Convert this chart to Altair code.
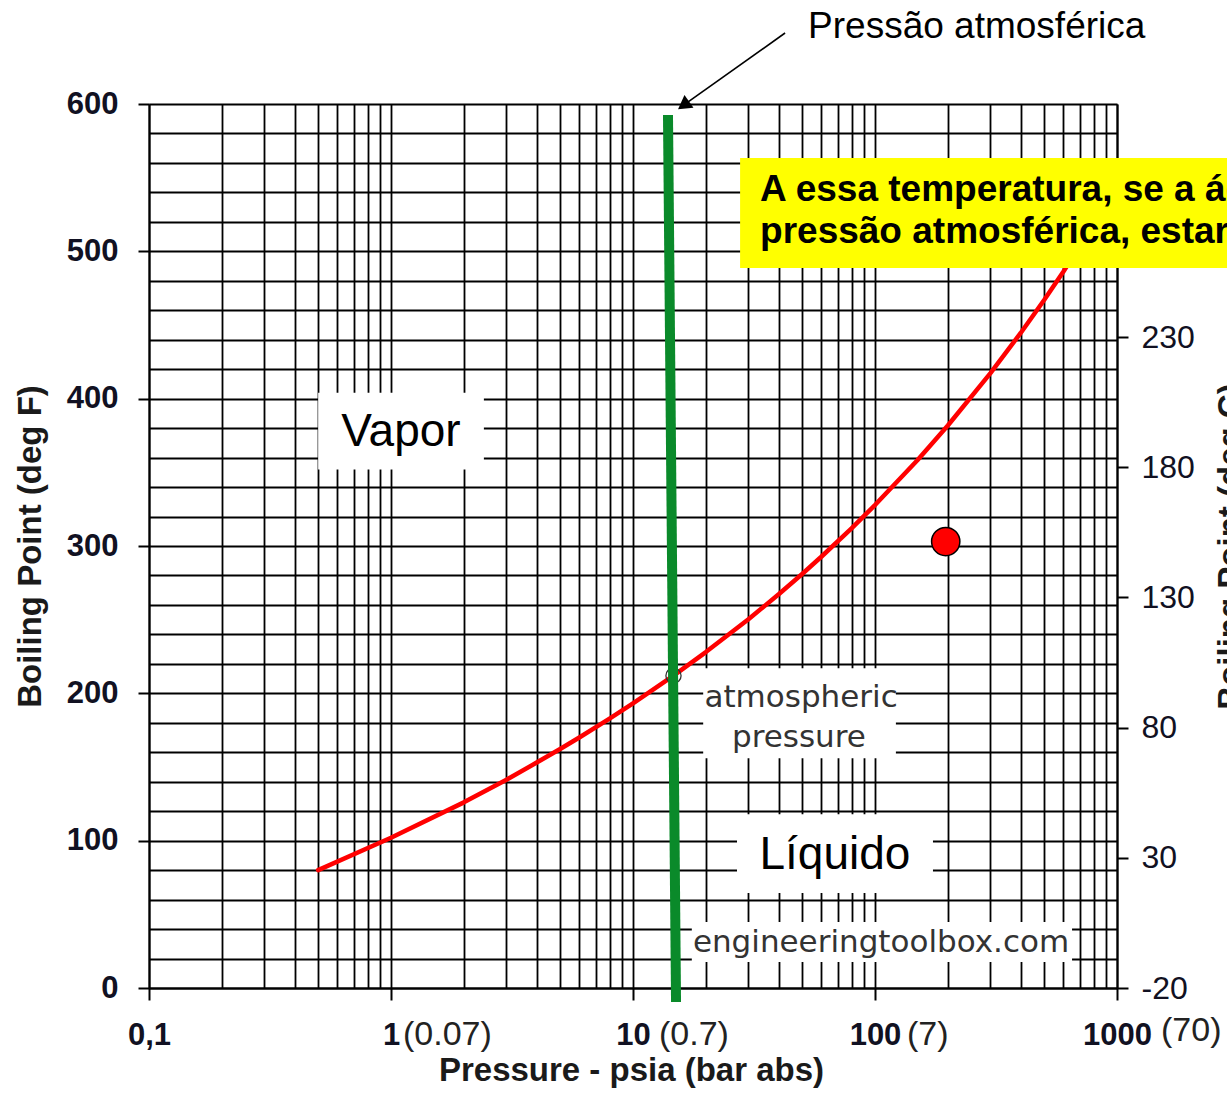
import altair as alt
import pandas as pd

# ---------------- data ----------------
# water saturation (boiling) curve: pressure in psia, boiling point in deg F
pressure_psia = [0.5, 1, 2, 3, 4, 5, 6, 8, 10, 14.7, 20, 30, 40, 50, 60, 80,
                 100, 150, 200, 300, 400, 500, 600, 800, 1000]
boiling_f = [80, 102, 126, 141.4, 153, 162.2, 170, 182.8, 193.2, 212, 228,
             250.3, 267.2, 281, 292.7, 312, 327.8, 358.4, 381.8, 417.3, 444.6,
             467, 486.2, 518.2, 544.6]

# marked state point (red dot) and atmospheric point (small open circle)
state_point = {"psia": [196], "degF": [303]}
atm_point = {"psia": [14.7], "degF": [212]}

# axis ticks / labels
x_grid = sorted(set([round(m * 10 ** e, 6) for e in range(-1, 3) for m in range(1, 10)] + [1000]))
y_grid = list(range(0, 601, 20))
celsius_ticks = [-20, 30, 80, 130, 180, 230]
celsius_span = [-20, 319.5]          # right-axis range matching 0..600 deg F as drawn
bar_labels = ["(0.07)", "(0.7)", "(7)", "(70)"]
bar_label_at = [1, 10, 100, 1000]

# annotation texts
vapor_text = "Vapor"
liquid_text = "Líquido"
atm_lines = ["atmospheric", "pressure"]
site_text = "engineeringtoolbox.com"
arrow_text = "Pressão atmosférica"
yellow_lines = ["A essa temperatura, se a água estivesse à",
                "pressão atmosférica, estaria no estado de vapor"]

# ---------------- chart ----------------
W, H = 968, 884
FONT = "Liberation Sans, Arial, Helvetica, sans-serif"
FONT2 = "DejaVu Sans, Verdana, sans-serif"
GREEN = "#0a8a2a"

xscale = alt.Scale(type="log", domain=[0.1, 1000], nice=False)
yscale = alt.Scale(domain=[0, 600], nice=False, zero=False)

# right axis: Celsius ticks placed on the Fahrenheit scale
k = (celsius_span[1] - celsius_span[0]) / 600.0
celsius_pos = [(c - celsius_span[0]) / k for c in celsius_ticks]


def X(f):
    return alt.X(f + ":Q", scale=xscale, axis=None)


def Y(f):
    return alt.Y(f + ":Q", scale=yscale, axis=None)


decade_test = "indexof([0.1,1,10,100,1000], datum.value) >= 0"

x_axis = alt.Axis(
    orient="bottom",
    values=x_grid, grid=True, gridColor="#000", gridWidth=1.8, gridOpacity=1,
    domain=True, domainColor="#000", domainWidth=2,
    ticks=True, tickColor="#000", tickWidth=2, tickSize=12,
    tickOpacity={"condition": {"test": decade_test, "value": 1}, "value": 0},
    labelExpr="datum.value == 0.1 ? '0,1' : (" + decade_test + " ? format(datum.value, 'd') : '')",
    labelFont=FONT, labelFontSize=31, labelFontWeight="bold", labelColor="#111122",
    labelPadding=20, labelOverlap=False, labelFlush=False, labelBound=False,
    title="Pressure - psia (bar abs)", titleFont=FONT, titleFontSize=33,
    titleFontWeight="bold", titleColor="#1a1a1a", titleX=482, titleY=66,
    titleBaseline="top", titleAlign="center",
)

y_axis = alt.Axis(
    orient="left",
    values=y_grid, grid=True, gridColor="#000", gridWidth=1.8, gridOpacity=1,
    domain=True, domainColor="#000", domainWidth=2,
    ticks=True, tickColor="#000", tickWidth=2, tickSize=11,
    tickOpacity={"condition": {"test": "datum.value % 100 == 0", "value": 1}, "value": 0},
    labelExpr="datum.value % 100 == 0 ? format(datum.value, 'd') : ''",
    labelFont=FONT, labelFontSize=31, labelFontWeight="bold", labelColor="#111122",
    labelPadding=20, labelOverlap=False, labelFlush=False,
    title="Boiling Point (deg F)", titleFont=FONT, titleFontSize=33,
    titleFontWeight="bold", titleColor="#1a1a1a", titleAngle=270,
    titleX=-135, titleY=442, titleBaseline="top", titleAlign="center",
)

y_axis_c = alt.Axis(
    orient="right", values=celsius_pos, grid=False,
    domain=True, domainColor="#000", domainWidth=2,
    ticks=True, tickColor="#000", tickWidth=2, tickSize=11,
    labelExpr="'' + round(datum.value * %.8f + (%s))" % (k, celsius_span[0]),
    labelFont=FONT, labelFontSize=32, labelColor="#111122",
    labelPadding=13, labelOverlap=False, labelFlush=False,
    title="Boiling Point (deg C)", titleFont=FONT, titleFontSize=33,
    titleFontWeight="bold", titleColor="#1a1a1a", titleAngle=270,
    titleX=97, titleY=442, titleBaseline="top", titleAlign="center",
)

axes_layer = alt.Chart(pd.DataFrame({"psia": [1], "degF": [100]})).mark_point(opacity=0).encode(
    x=alt.X("psia:Q", scale=xscale, axis=x_axis),
    y=alt.Y("degF:Q", scale=yscale, axis=y_axis),
)

celsius_layer = alt.Chart(pd.DataFrame({"degF": celsius_pos})).mark_point(opacity=0).encode(
    y=alt.Y("degF:Q", scale=yscale, axis=y_axis_c),
)

# white label boxes (data coordinates)
boxes = pd.DataFrame({
    "psia": [0.5, 19.5, 26.9, 17.5],
    "psia2": [2.42, 122, 173.6, 652],
    "degF": [352, 156, 64.5, 17.6],
    "degF2": [404, 217, 118, 44.8],
})
white_boxes = alt.Chart(boxes).mark_rect(color="white", opacity=1).encode(
    x=X("psia"), x2="psia2:Q", y=Y("degF"), y2="degF2:Q")

curve = alt.Chart(pd.DataFrame({"psia": pressure_psia, "degF": boiling_f})).mark_line(
    color="#ff0000", strokeWidth=4.5, strokeJoin="round", strokeCap="round"
).encode(x=X("psia"), y=Y("degF"), order=alt.Order("psia:Q"))

atm_circle = alt.Chart(pd.DataFrame(atm_point)).mark_point(
    shape="circle", size=230, filled=False, stroke="#333", strokeWidth=1.3, opacity=1
).encode(x=X("psia"), y=Y("degF"))

red_dot = alt.Chart(pd.DataFrame(state_point)).mark_circle(
    size=800, color="#ff0000", stroke="#000", strokeWidth=1.5, opacity=1
).encode(x=X("psia"), y=Y("degF"))

green_line = alt.Chart(pd.DataFrame({"psia": [13.95], "psia2": [15.06],
                                     "degF": [592.5], "degF2": [-9.5]})).mark_rule(
    color=GREEN, strokeWidth=10, strokeCap="butt"
).encode(x=X("psia"), x2="psia2:Q", y=Y("degF"), y2="degF2:Q")

yellow_box = alt.Chart(pd.DataFrame({"psia": [27.7], "psia2": [5000],
                                     "degF": [488.7], "degF2": [563.4]})).mark_rect(
    color="#ffff00", opacity=1
).encode(x=X("psia"), x2="psia2:Q", y=Y("degF"), y2="degF2:Q")

yellow_text = alt.Chart(pd.DataFrame({"psia": [33.5, 33.5], "degF": [541.3, 512.8],
                                      "t": yellow_lines})).mark_text(
    font=FONT, fontSize=37, fontWeight="bold", color="#000", align="left", baseline="middle"
).encode(x=X("psia"), y=Y("degF"), text="t:N")

vapor = alt.Chart(pd.DataFrame({"psia": [1.10], "degF": [377.4], "t": [vapor_text]})).mark_text(
    font=FONT, fontSize=46, color="#000", align="center", baseline="middle"
).encode(x=X("psia"), y=Y("degF"), text="t:N")

liquid = alt.Chart(pd.DataFrame({"psia": [68.3], "degF": [90.3], "t": [liquid_text]})).mark_text(
    font=FONT, fontSize=46, color="#000", align="center", baseline="middle"
).encode(x=X("psia"), y=Y("degF"), text="t:N")

atm_text = alt.Chart(pd.DataFrame({"psia": [49.5, 48.5], "degF": [196.8, 169.7],
                                   "t": atm_lines})).mark_text(
    font=FONT2, fontSize=31, color="#333", align="center", baseline="middle"
).encode(x=X("psia"), y=Y("degF"), text="t:N")

site = alt.Chart(pd.DataFrame({"psia": [105.9], "degF": [30.5], "t": [site_text]})).mark_text(
    font=FONT2, fontSize=31, color="#333", align="center", baseline="middle"
).encode(x=X("psia"), y=Y("degF"), text="t:N")

arrow_line = alt.Chart(pd.DataFrame({"psia": [42.5], "psia2": [16.9],
                                     "degF": [648.2], "degF2": [601.4]})).mark_rule(
    color="#000", strokeWidth=1.6
).encode(x=X("psia"), x2="psia2:Q", y=Y("degF"), y2="degF2:Q")

arrow_head = alt.Chart(pd.DataFrame({"psia": [16.17], "degF": [599.1]})).mark_point(
    shape="triangle-up", size=240, angle=234.5, filled=True, color="#000", opacity=1
).encode(x=X("psia"), y=Y("degF"))

arrow_label = alt.Chart(pd.DataFrame({"psia": [52.9], "degF": [652], "t": [arrow_text]})).mark_text(
    font=FONT, fontSize=37, color="#000", align="left", baseline="middle"
).encode(x=X("psia"), y=Y("degF"), text="t:N")

paren_dx = [12, 26, 32, 44]
paren_y = [-32, -32, -32, -29]
paren_layers = []
for txt, at, dx, yy in zip(bar_labels, bar_label_at, paren_dx, paren_y):
    paren_layers.append(
        alt.Chart(pd.DataFrame({"psia": [at], "degF": [yy], "t": [txt]})).mark_text(
            font=FONT, fontSize=34, color="#222", align="left", baseline="middle", dx=dx
        ).encode(x=X("psia"), y=Y("degF"), text="t:N")
    )

chart = alt.layer(
    axes_layer, celsius_layer, white_boxes, curve, atm_circle, red_dot, green_line,
    yellow_box, yellow_text, vapor, liquid, atm_text, site,
    arrow_line, arrow_head, arrow_label, *paren_layers
).resolve_axis(x="independent", y="independent").properties(
    width=W, height=H,
    padding={"left": 149, "top": 104, "right": 110, "bottom": 128},
    autosize=alt.AutoSizeParams(type="none"),
    background="white",
).configure_view(strokeWidth=0)

chart.save("out.html", embed_options={"renderer": "svg", "actions": False})
